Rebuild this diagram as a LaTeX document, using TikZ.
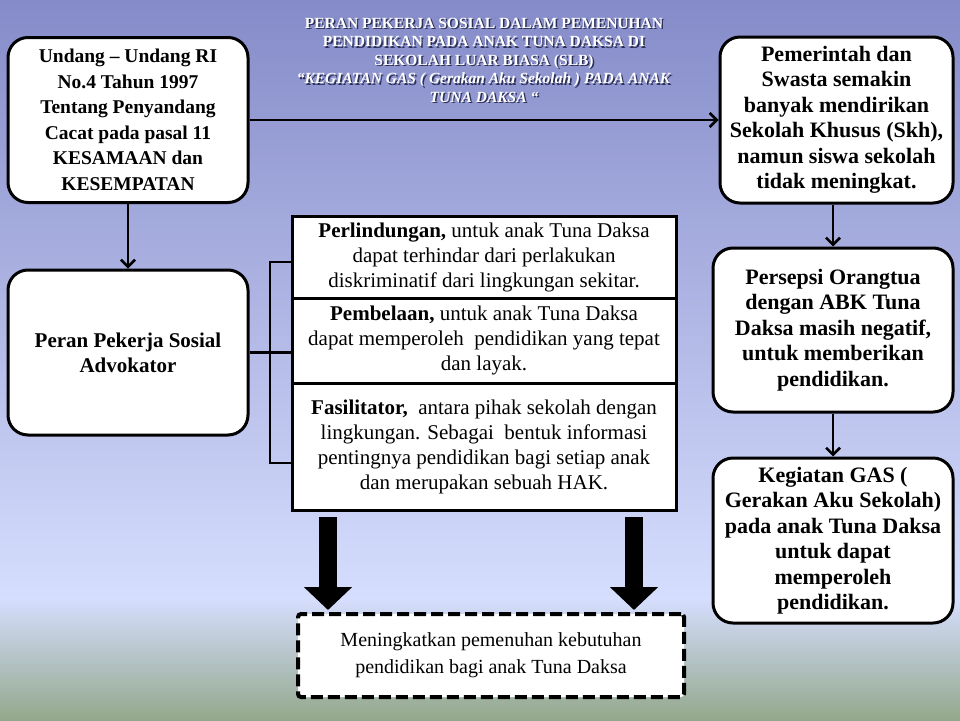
\documentclass[tikz,border=0pt]{standalone}
\usepackage{fontspec}
\setmainfont{Liberation Serif}
\usetikzlibrary{arrows.meta,positioning}
\definecolor{gasInk}{HTML}{000000}
\definecolor{gasTop}{RGB}{133,139,200}
\definecolor{gasMid}{RGB}{214,222,254}
\definecolor{gasBottom}{RGB}{147,168,140}
\definecolor{gasShadow}{HTML}{2B2F55}
\newcommand{\gasTitle}{PERAN PEKERJA SOSIAL DALAM PEMENUHAN\\
  PENDIDIKAN PADA ANAK TUNA DAKSA DI\\
  SEKOLAH LUAR BIASA (SLB)\\
  \textit{“KEGIATAN GAS ( Gerakan Aku Sekolah ) PADA ANAK}\\
  \textit{TUNA DAKSA “}}
\tikzset{
  every picture/.style={text=gasInk},
  gas box/.style={draw=gasInk, line width=3pt, rounded corners=20pt,
    fill=white, align=center, font=\bfseries\fontsize{22}{25.5}\selectfont,
    minimum width=240pt, minimum height=165pt, inner sep=0pt},
  gas panel/.style={draw=gasInk, line width=3pt, fill=white, align=center,
    font=\fontsize{21}{25}\selectfont, minimum width=384pt, inner sep=0pt,
    outer sep=0pt},
  gas goal/.style={draw=gasInk, line width=4pt, dash pattern=on 12pt off 5pt,
    rounded corners=3pt, fill=white, align=center,
    font=\fontsize{20}{27}\selectfont, minimum width=386pt,
    minimum height=83pt, outer sep=0pt},
  gas link/.style={draw=gasInk, line width=2.5pt},
  gas arrow/.style={gas link, -{Straight Barb[length=7pt,width=14pt]}},
  gas block/.style={draw=gasInk, line width=18pt,
    -{Triangle[length=23pt,width=47pt]}},
  gas title/.style={align=center, font=\bfseries\fontsize{15.5}{18.5}\selectfont}
}

\begin{document}
\begin{tikzpicture}[x=1pt,y=1pt]
  \useasboundingbox (0,0) rectangle (960,-720);
  \shade[top color=gasTop, bottom color=gasMid] (0,0) rectangle (960,-599);
  \shade[top color=gasMid, bottom color=gasBottom] (0,-598) rectangle (960,-720);

  % title
  \node[gas title, text=gasShadow] (titleshade) at (485.5,-61.5) {\gasTitle};
  \node[gas title, text=white] (title) at (484,-60) {\gasTitle};

  % left column
  \node[gas box, font=\bfseries\fontsize{19.5}{25.5}\selectfont] (law) at (128,-120)
    {Undang -- Undang RI\\ No.4 Tahun 1997\\ Tentang Penyandang\\ Cacat pada pasal 11\\ KESAMAAN dan\\ KESEMPATAN};
  \node[gas box, font=\bfseries\fontsize{21}{25}\selectfont] (advocate) at (128,-352.5)
    {Peran Pekerja Sosial\\ Advokator};

  % right column
  \node[gas box, minimum width=233pt, minimum height=166pt] (school) at (836.5,-120)
    {Pemerintah dan\\ Swasta semakin\\ banyak mendirikan\\ Sekolah Khusus (Skh),\\ namun siswa sekolah\\ tidak meningkat.};
  \node[gas box, minimum height=164pt] (parent) at (833,-330)
    {Persepsi Orangtua\\ dengan ABK Tuna\\ Daksa masih negatif,\\ untuk memberikan\\ pendidikan.};
  \node[gas box] (activity) at (833,-540.5)
    {Kegiatan GAS (\\ Gerakan Aku Sekolah)\\ pada anak Tuna Daksa\\ untuk dapat\\ memperoleh\\ pendidikan.};

  % middle panels
  \node[gas panel, minimum height=82pt] (duty1) at (484,-257)
    {\textbf{Perlindungan,} untuk anak Tuna Daksa\\ dapat terhindar dari perlakukan\\ diskriminatif dari lingkungan sekitar.};
  \node[gas panel, minimum height=85pt, below=0pt of duty1] (duty2)
    {\textbf{Pembelaan,} untuk anak Tuna Daksa\\ dapat memperoleh~ pendidikan yang tepat\\ dan layak.};
  \node[gas panel, minimum height=127pt, below=0pt of duty2] (duty3)
    {\textbf{Fasilitator,}~ antara pihak sekolah dengan\\ lingkungan. Sebagai~ bentuk informasi\\ pentingnya pendidikan bagi setiap anak\\ dan merupakan sebuah HAK.};

  \node[gas goal] (goal) at (491,-655.5)
    {Meningkatkan pemenuhan kebutuhan\\ pendidikan bagi anak Tuna Daksa};

  % connectors
  \draw[gas arrow] (law.east) -- (school.west);
  \draw[gas arrow] (law.south) -- (advocate.north);
  \draw[gas arrow] (parent.north |- school.south) -- (parent.north);
  \draw[gas arrow] (parent.south) -- (activity.north);

  \coordinate (brtop) at (270,-262);
  \coordinate (brbot) at (270,-463);
  \draw[gas link] (brtop -| duty1.west) -- (brtop) -- (brbot) -- (brbot -| duty3.west);
  \draw[gas link] (advocate.east) -- (advocate.east -| duty2.west);

  \draw[gas block] ([xshift=-156pt,yshift=-7pt]duty3.south) -- ([xshift=-163pt,yshift=4pt]goal.north);
  \draw[gas block] ([xshift=150pt,yshift=-7pt]duty3.south) -- ([xshift=143pt,yshift=4pt]goal.north);
\end{tikzpicture}
\end{document}
